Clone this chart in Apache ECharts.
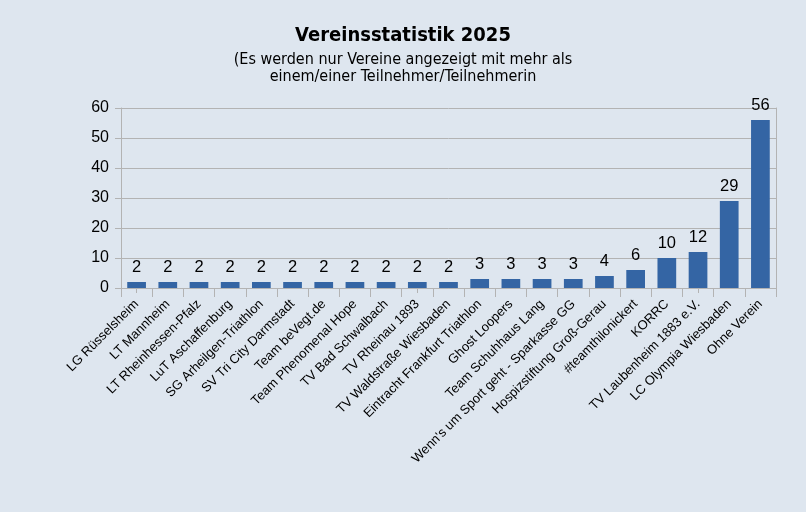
<!DOCTYPE html>
<html><head><meta charset="utf-8">
<script src="https://cdn.jsdelivr.net/npm/echarts@6/dist/echarts.min.js"></script>
<style>html,body{margin:0;padding:0;background:#dee6ef}#c{width:806px;height:512px}</style>
</head><body><div id="c"></div>
<script>
const categories = ["LG Rüsselsheim","LT Mannheim","LT Rheinhessen-Pfalz","LuT Aschaffenburg","SG Arheilgen-Triathlon","SV Tri City Darmstadt","Team beVegt.de","Team Phenomenal Hope","TV Bad Schwalbach","TV Rheinau 1893","TV Waldstraße Wiesbaden","Eintracht Frankfurt Triathlon","Ghost Loopers","Team Schuhhaus Lang","Wenn's um Sport geht - Sparkasse GG","Hospizstiftung Groß-Gerau","#teamthilonickert","KORRC","TV Laubenheim 1883 e.V.","LC Olympia Wiesbaden","Ohne Verein"];
const values = [2,2,2,2,2,2,2,2,2,2,2,3,3,3,3,4,6,10,12,29,56];
const titleText = "Vereinsstatistik 2025";
const subtitleText = "(Es werden nur Vereine angezeigt mit mehr als\neinem/einer Teilnehmer/Teilnehmerin";

const chart = echarts.init(document.getElementById('c'));
const grey = '#b3b3b3';
chart.setOption({
  backgroundColor: '#dee6ef',
  animation: false,
  title: {
    text: titleText,
    subtext: subtitleText,
    left: 'center',
    top: 21,
    itemGap: 5,
    textStyle: {fontFamily: 'DejaVu Sans Condensed', fontWeight: 'bold', fontSize: 20, color: '#000'},
    subtextStyle: {fontFamily: 'DejaVu Sans Condensed', fontSize: 16, color: '#000', lineHeight: 17, align: 'center'}
  },
  grid: {left: 121, right: 30, top: 108, bottom: 224, containLabel: false},
  xAxis: [{
    type: 'category',
    data: categories,
    axisLine: {lineStyle: {color: grey}},
    axisTick: {show: true, length: 9, lineStyle: {color: grey}},
    axisLabel: {rotate: 45, interval: 0, fontFamily: 'Liberation Sans', fontSize: 13, color: '#000', margin: 14}
  },{
    type: 'category',
    data: categories,
    position: 'bottom',
    axisLine: {show: false},
    axisTick: {show: true, alignWithLabel: true, length: 5, lineStyle: {color: grey}},
    axisLabel: {show: false}
  }],
  yAxis: [{
    type: 'value', min: 0, max: 60, interval: 10,
    axisLine: {show: true, lineStyle: {color: grey}},
    axisTick: {show: true, length: 6, lineStyle: {color: grey}},
    splitLine: {lineStyle: {color: grey}},
    axisLabel: {fontFamily: 'Liberation Sans', fontSize: 16, color: '#000', margin: 12}
  },{
    type: 'value', min: 0, max: 60, interval: 10, position: 'right',
    axisLine: {show: true, lineStyle: {color: grey}},
    axisTick: {show: true, inside: true, length: 5, lineStyle: {color: grey}},
    splitLine: {show: false},
    axisLabel: {show: false}
  }],
  series: [{
    type: 'bar',
    data: values,
    barWidth: '60%',
    itemStyle: {color: '#3465a4'},
    label: {show: true, position: 'top', distance: 6, fontFamily: 'Liberation Sans', fontSize: 16.5, color: '#000'}
  }]
});
</script></body></html>
